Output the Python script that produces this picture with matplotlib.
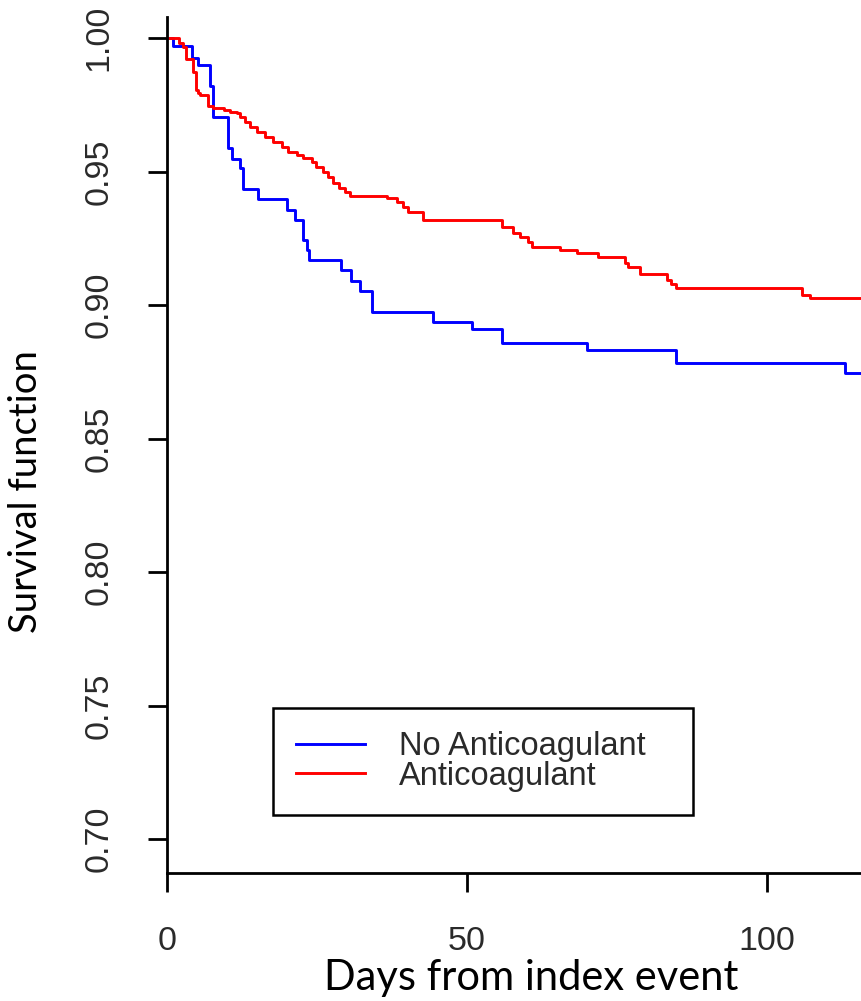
import matplotlib
matplotlib.use("Agg")
import matplotlib.pyplot as plt

plt.rcParams["font.family"] = ["Liberation Sans", "DejaVu Sans"]

# Kaplan-Meier step estimates (day of event, survival after event)
days_no_ac = [0, 1.0, 4.2, 5.2, 7.2, 7.7, 10.2, 10.8, 12.2, 12.7, 15.2, 20.0,
              21.3, 22.7, 23.3, 23.7, 29.0, 30.7, 32.2, 34.2, 44.3, 50.8, 55.8,
              70.0, 84.8, 113.0, 116.0]
surv_no_ac = [1.0, 0.997, 0.9925, 0.9899, 0.982, 0.9705, 0.9588, 0.9547, 0.9513,
              0.9434, 0.9399, 0.9357, 0.932, 0.9243, 0.9206, 0.9169, 0.9131,
              0.909, 0.9052, 0.8974, 0.8936, 0.8911, 0.8857, 0.8831, 0.8782,
              0.8744, 0.8744]

days_ac = [0, 2.0, 2.7, 3.2, 4.3, 4.8, 5.2, 5.5, 6.9, 7.7, 9.5, 10.5, 11.6, 12.2,
           13.0, 13.8, 15.0, 16.3, 17.7, 19.1, 20.2, 21.6, 22.7, 24.1, 24.9,
           26.0, 26.9, 27.6, 28.6, 29.7, 30.5, 36.7, 38.3, 39.4, 40.2, 42.7,
           55.8, 57.7, 58.8, 60.2, 60.8, 65.5, 68.3, 71.9, 76.3, 76.9, 78.9,
           83.4, 84.1, 84.8, 105.8, 107.2, 116.0]
surv_ac = [1.0, 0.998, 0.9967, 0.992, 0.9873, 0.9805, 0.9794, 0.9787, 0.9745,
           0.9737, 0.973, 0.9725, 0.9718, 0.9705, 0.9687, 0.9668, 0.9649, 0.963,
           0.9612, 0.9593, 0.9574, 0.9562, 0.955, 0.9537, 0.9518, 0.950, 0.948,
           0.9458, 0.9437, 0.9424, 0.9408, 0.940, 0.9387, 0.9368, 0.935, 0.9318,
           0.9293, 0.927, 0.9256, 0.9237, 0.9218, 0.9206, 0.9194, 0.9179, 0.9156,
           0.9141, 0.9116, 0.9094, 0.9079, 0.9065, 0.9037, 0.9025, 0.9025]

group_labels = ["No Anticoagulant", "Anticoagulant"]
x_ticks = [0, 50, 100]
y_ticks = [0.70, 0.75, 0.80, 0.85, 0.90, 0.95, 1.00]
y_tick_labels = ["0.70", "0.75", "0.80", "0.85", "0.90", "0.95", "1.00"]

W, H = 861, 1001
fig = plt.figure(figsize=(W / 100, H / 100), dpi=100)
ax = fig.add_axes([167 / W, 1 - 873 / H, 1 - 167 / W, (873 - 17) / H])

ax.step(days_no_ac, surv_no_ac, where="post", color="#0000ff", lw=2.1,
        label=group_labels[0])
ax.step(days_ac, surv_ac, where="post", color="#ff0000", lw=2.1,
        label=group_labels[1])

ax.set_xlim(0, 115.7)
ax.set_ylim(0.6873, 1.0079)

for side in ("top", "right"):
    ax.spines[side].set_visible(False)
for side in ("left", "bottom"):
    ax.spines[side].set_linewidth(2.0)

ax.set_xticks(x_ticks)
ax.set_xticklabels([str(v) for v in x_ticks])
ax.set_yticks(y_ticks)
ax.set_yticklabels(y_tick_labels, rotation=90, va="center")
ax.tick_params(direction="out", length=14, width=2.0, pad=24,
               labelsize=24.5, labelcolor="#2a2a2a")

leg = ax.legend(loc="upper left", bbox_to_anchor=(0.1527, 0.0759, 0.6052, 0.1169),
                mode="expand", borderaxespad=0, fontsize=23.5, frameon=True,
                fancybox=False, edgecolor="black", framealpha=1,
                handlelength=2.1, handletextpad=1.05, labelspacing=-0.05,
                borderpad=0.72)
leg.get_frame().set_linewidth(1.8)
for t in leg.get_texts():
    t.set_color("#2a2a2a")

fig.text(531 / W, 1 - 990 / H, "Days from index event", family="Lato",
         fontsize=30, ha="center", va="baseline", color="black")
fig.text(26 / W, 1 - 492 / H, "Survival function", family="Lato",
         fontsize=27.5, ha="center", va="center", rotation=90, color="black")

fig.savefig("out.png", dpi=100)
